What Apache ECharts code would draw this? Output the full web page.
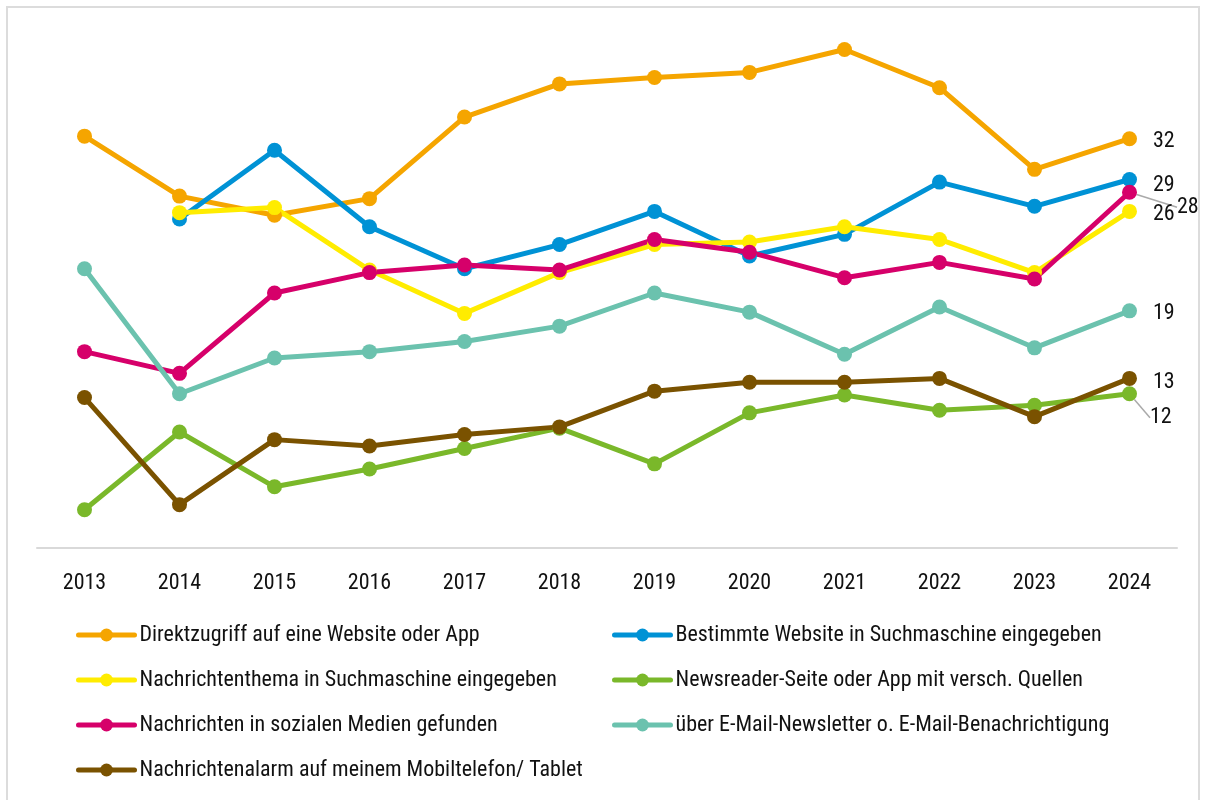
<!DOCTYPE html>
<html>
<head>
<meta charset="utf-8">
<script src="https://cdn.jsdelivr.net/npm/echarts@6/dist/echarts.min.js"></script>
<style>
  body { margin: 0; background: #fff; }
  #chart { width: 1207px; height: 800px; position: relative; }
  #frame { position: absolute; left: 6px; top: 6px; width: 1194px; height: 800px;
           border: 2px solid #dcdcdc; box-sizing: border-box; pointer-events: none; }
</style>
</head>
<body>
<div id="chart"></div>
<div id="frame"></div>
<script>
// years on the x axis
const years = ['2013', '2014', '2015', '2016', '2017', '2018', '2019', '2020', '2021', '2022', '2023', '2024'];

// values per series (percent)
const direktzugriff   = [32.3, 27.6, 26.1, 27.4, 33.8, 36.4, 36.9, 37.3, 39.1, 36.1, 29.7, 32.1];
const bestimmteSeite  = [null, 25.8, 31.2, 25.2, 21.9, 23.8, 26.4, 22.9, 24.6, 28.7, 26.8, 28.9];
const themaSuche      = [null, 26.3, 26.7, 21.8, 18.4, 21.6, 23.8, 24.0, 25.2, 24.2, 21.6, 26.4];
const newsreader      = [3.0, 9.1, 4.8, 6.2, 7.8, 9.4, 6.6, 10.6, 12.0, 10.8, 11.2, 12.1];
const sozialeMedien   = [15.4, 13.7, 20.0, 21.6, 22.2, 21.8, 24.2, 23.2, 21.2, 22.4, 21.1, 27.9];
const newsletter      = [21.9, 12.1, 14.9, 15.4, 16.2, 17.4, 20.0, 18.5, 15.2, 18.9, 15.7, 18.6];
const mobilAlarm      = [11.8, 3.4, 8.5, 8.0, 8.9, 9.5, 12.3, 13.0, 13.0, 13.3, 10.3, 13.3];

const names = {
    direktzugriff: 'Direktzugriff auf eine Website oder App',
    bestimmteSeite: 'Bestimmte Website in Suchmaschine eingegeben',
    themaSuche: 'Nachrichtenthema in Suchmaschine eingegeben',
    newsreader: 'Newsreader-Seite oder App mit versch. Quellen',
    sozialeMedien: 'Nachrichten in sozialen Medien gefunden',
    newsletter: 'über E-Mail-Newsletter o. E-Mail-Benachrichtigung',
    mobilAlarm: 'Nachrichtenalarm auf meinem Mobiltelefon/ Tablet'
};

const FONT = '"Liberation Sans Narrow", "Roboto Condensed", "DejaVu Sans Condensed", sans-serif';

// only the last point carries a value label
function withEndLabel(values, labelOpts) {
    const last = values.length - 1;
    return values.map((v, i) => {
        if (i !== last) return v;
        return { value: v, label: Object.assign({ show: true, offset: [0, 3] }, labelOpts || {}) };
    });
}

function makeSeries(name, values, color, labelOpts, extra) {
    return Object.assign({
        name: name,
        type: 'line',
        data: withEndLabel(values, labelOpts),
        symbol: 'circle',
        symbolSize: 15,
        connectNulls: false,
        lineStyle: { width: 5, color: color },
        itemStyle: { color: color },
        label: {
            show: false,
            position: 'right',
            distance: 16,
            fontFamily: FONT,
            fontSize: 22,
            color: '#111',
            formatter: p => Math.round(p.value)
        }
    }, extra || {});
}

const legendBase = {
    orient: 'vertical',
    top: 623,
    padding: 0,
    itemWidth: 56,
    itemHeight: 16,
    itemGap: 21,
    lineStyle: { width: 5, cap: 'round' },
    textStyle: { fontFamily: FONT, fontSize: 22, color: '#111', lineHeight: 24 }
};

const chart = echarts.init(document.getElementById('chart'));

const option = {
    animation: false,
    grid: { left: 37, right: 30, top: 38, bottom: 252, containLabel: false },
    xAxis: {
        type: 'category',
        data: years,
        boundaryGap: true,
        axisLine: { lineStyle: { color: '#d9d9d9', width: 2 } },
        axisTick: { show: false },
        axisLabel: { fontFamily: FONT, fontSize: 22, color: '#111', margin: 24 }
    },
    yAxis: {
        type: 'value',
        min: 0,
        max: 40,
        show: false,
        splitLine: { show: false }
    },
    legend: [
        Object.assign({}, legendBase, {
            left: 76,
            data: [names.direktzugriff, names.themaSuche, names.sozialeMedien, names.mobilAlarm]
        }),
        Object.assign({}, legendBase, {
            left: 612,
            data: [names.bestimmteSeite, names.newsreader, names.newsletter]
        })
    ],
    series: [
        makeSeries(names.direktzugriff, direktzugriff, '#F5A500'),
        makeSeries(names.bestimmteSeite, bestimmteSeite, '#0092D5', { offset: [0, 6] }),
        makeSeries(names.themaSuche, themaSuche, '#FFEC00'),
        makeSeries(names.newsreader, newsreader, '#7AB82A', {}, {
            labelLine: { show: true, lineStyle: { color: '#aaa', width: 1.5 } },
            labelLayout: { dx: -3, dy: 24 }
        }),
        makeSeries(names.sozialeMedien, sozialeMedien, '#D6006A', {}, {
            labelLine: { show: true, lineStyle: { color: '#aaa', width: 1.5 } },
            labelLayout: { dx: 24, dy: 15 }
        }),
        makeSeries(names.newsletter, newsletter, '#6BC2AE'),
        makeSeries(names.mobilAlarm, mobilAlarm, '#7A5200', { offset: [0, 4] })
    ]
};

chart.setOption(option);
</script>
</body>
</html>
